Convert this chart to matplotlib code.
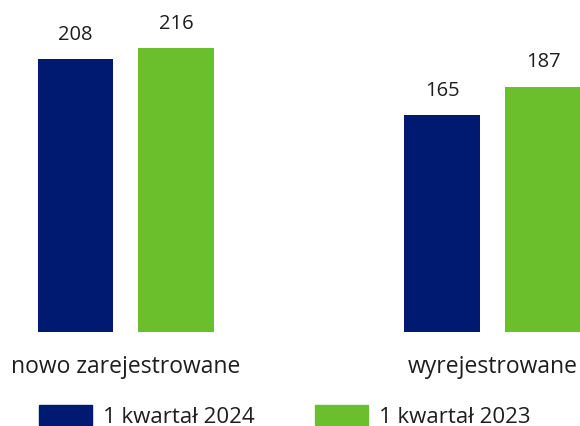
import matplotlib
matplotlib.use("Agg")
import matplotlib.pyplot as plt
from matplotlib.patches import Patch
import numpy as np

plt.rcParams['font.family'] = ['Open Sans', 'DejaVu Sans']

kategorie = ['nowo zarejestrowane', 'wyrejestrowane']
serie = ['1 kwartał 2024', '1 kwartał 2023']
q1_2024 = [208, 165]
q1_2023 = [216, 187]
kolory = ['#001a72', '#6cbf2c']
tekst = '#1e1e1e'

fig = plt.figure(figsize=(5.8, 4.27), dpi=100)
ax = fig.add_axes([0, 94 / 427, 1, 333 / 427])

x = np.arange(len(kategorie))
w = 0.207
off = 0.137
b1 = ax.bar(x - off, q1_2024, w, color=kolory[0])
b2 = ax.bar(x + off, q1_2023, w, color=kolory[1])

for bars in (b1, b2):
    for b in bars:
        ax.annotate(str(int(b.get_height())), (b.get_x() + b.get_width() / 2, b.get_height()),
                    xytext=(0, 11), textcoords='offset points', ha='center', va='bottom',
                    fontsize=14.5, color=tekst)

ax.set_xlim(-0.3427, 1.2378)
ax.set_ylim(0, 253.7)
ax.axis('off')

# podpisy kategorii
for xi, k in zip(x, kategorie):
    fig.text((125.75 + xi * 367) / 580, 1 - 367 / 427, k, ha='center', va='center',
             fontsize=16.5, color=tekst)

uchwyty = [Patch(color=c) for c in kolory]
fig.legend(uchwyty, serie, loc='center left', bbox_to_anchor=(39 / 580, 1 - 417 / 427),
           ncol=2, frameon=False, fontsize=16, handlelength=2.39, handleheight=1.0,
           handletextpad=0.5, columnspacing=2.7, labelcolor=tekst, borderaxespad=0,
           borderpad=0)

fig.savefig('out.png', dpi=100)
